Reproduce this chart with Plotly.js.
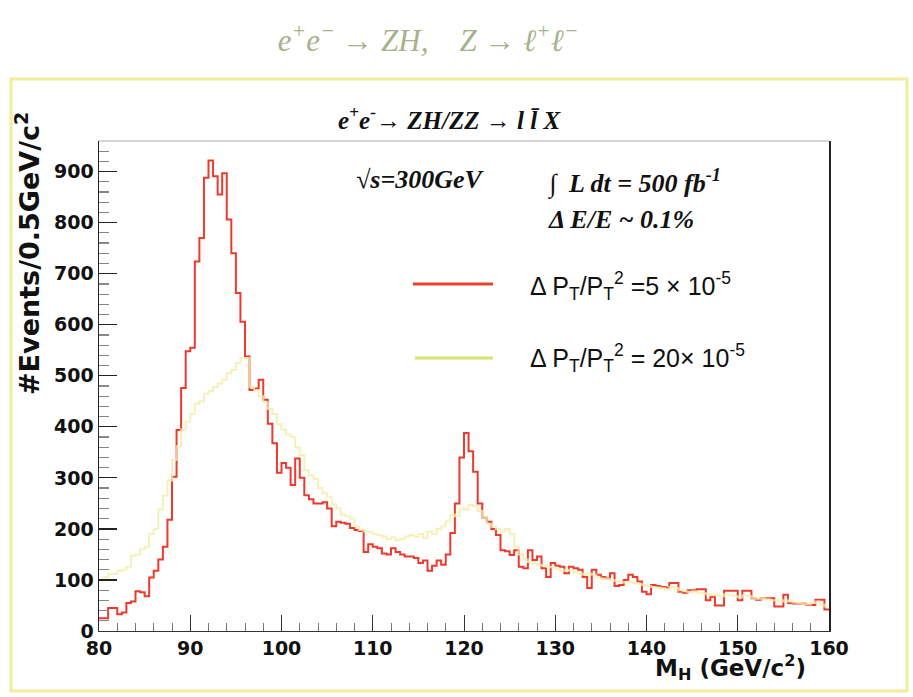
<!DOCTYPE html>
<html>
<head>
<meta charset="utf-8">
<script src="https://cdn.plot.ly/plotly-3.0.1.min.js"></script>
<style>html,body{margin:0;padding:0;background:#fff;}#chart{width:913px;height:697px;}</style>
</head>
<body>
<div id="chart"></div>
<script>
// Bin settings (0.5 GeV bins from 80 to 160)
const binLow = 80;
const binWidth = 0.5;

// Red histogram: Delta PT/PT^2 = 5e-5 (events per 0.5 GeV bin)
const redCounts = [
  25,25,45,45,33,36,55,58,78,76,
  68,105,118,140,165,218,302,394,476,548,
  555,724,770,888,922,891,855,897,806,740,
  662,606,538,472,475,492,453,406,368,310,
  329,320,286,338,300,266,258,250,250,252,
  240,205,214,212,210,202,198,196,155,170,
  165,162,152,150,162,155,150,146,146,143,
  133,138,118,128,138,130,150,192,250,340,
  388,352,312,250,222,214,200,188,158,156,
  149,158,126,123,158,139,146,123,106,133,
  128,126,113,126,123,120,106,84,120,110,
  106,103,113,88,90,100,110,106,97,77,
  72,90,88,86,85,94,94,77,75,80,
  80,82,82,60,67,50,50,79,79,79,
  60,79,79,64,61,64,64,64,48,48,
  71,55,54,54,54,51,51,61,61,42
];

// Yellow histogram: Delta PT/PT^2 = 20e-5
const yellowCounts = [
  100,105,112,112,118,120,125,148,150,160,
  165,190,200,238,265,295,335,362,395,410,
  425,445,450,465,470,478,485,492,505,512,
  525,535,535,478,472,460,448,435,425,405,
  395,385,380,360,345,315,305,298,280,270,
  262,248,240,228,225,220,205,198,195,194,
  190,188,185,180,183,178,180,185,188,185,
  190,182,195,190,200,205,215,228,225,240,
  238,247,245,235,222,210,204,200,195,200,
  190,165,150,140,135,132,130,128,126,125,
  122,118,120,118,115,113,110,112,110,105,
  103,102,100,98,96,95,97,94,92,90,
  88,86,85,84,82,86,84,80,78,76,
  78,75,74,72,70,71,68,72,70,68,
  66,70,68,65,63,64,62,60,60,58,
  60,58,56,55,54,52,55,58,52,48
];

const xTickVals = [80, 90, 100, 110, 120, 130, 140, 150, 160];
const yTickVals = [0, 100, 200, 300, 400, 500, 600, 700, 800, 900];

function stepXY(counts) {
  const xs = [], ys = [];
  for (let i = 0; i < counts.length; i++) {
    xs.push(binLow + i * binWidth);
    ys.push(counts[i]);
  }
  xs.push(binLow + counts.length * binWidth);
  ys.push(counts[counts.length - 1]);
  return {xs, ys};
}

const r = stepXY(redCounts);
const y = stepXY(yellowCounts);

const traces = [
  {x: r.xs, y: r.ys, type: 'scatter', mode: 'lines',
   line: {shape: 'hv', color: '#ec3a2e', width: 2}, name: 'red', hoverinfo: 'skip'},
  {x: y.xs, y: y.ys, type: 'scatter', mode: 'lines',
   line: {shape: 'hv', color: '#f2eda8', width: 2}, opacity: 0.8, name: 'yellow', hoverinfo: 'skip'}
];

const tickFont = {family: 'DejaVu Sans', size: 19, color: '#111', weight: 'bold'};

const layout = {
  width: 913, height: 697,
  margin: {l: 99, r: 84, t: 141, b: 66},
  paper_bgcolor: '#ffffff', plot_bgcolor: '#ffffff',
  showlegend: false,
  title: {
    text: '<i>e<sup>+</sup>e<sup>−</sup> → ZH,    Z → ℓ<sup>+</sup>ℓ<sup>−</sup></i>',
    font: {family: 'Liberation Serif', size: 31, color: '#a6b28c'},
    x: 428/913, xanchor: 'center', xref: 'container',
    y: 1 - 40/697, yanchor: 'middle', yref: 'container'
  },
  xaxis: {
    range: [80, 160], tickvals: xTickVals, ticktext: xTickVals.map(String),
    ticks: 'inside', ticklen: 16, tickwidth: 1, tickcolor: '#333',
    minor: {dtick: 2, tick0: 80, ticks: 'inside', ticklen: 8, tickcolor: '#777', showgrid: false},
    showgrid: false, zeroline: false, showline: true, linecolor: '#333', linewidth: 1,
    tickfont: tickFont, mirror: false
  },
  yaxis: {
    range: [0, 960], tickvals: yTickVals, ticktext: yTickVals.map(String),
    ticks: 'inside', ticklen: 18, tickwidth: 1.2, tickcolor: '#222',
    minor: {dtick: 20, tick0: 0, ticks: 'inside', ticklen: 10, tickcolor: '#888', showgrid: false},
    showgrid: false, zeroline: false, showline: true, linecolor: '#222', linewidth: 1.5,
    mirror: true, tickfont: tickFont
  },
  shapes: [
    // faint top frame line
    {type: 'line', xref: 'paper', yref: 'paper', x0: 0, x1: 1, y0: 1, y1: 1,
     line: {color: '#b5aca6', width: 1.2}},
    // outer pale-yellow frame
    {type: 'rect', xref: 'paper', yref: 'paper',
     x0: (11-99)/730, x1: (907-99)/730, y0: (631-691)/490, y1: (631-79)/490,
     line: {color: '#f3ec9c', width: 3}},
    // legend sample lines
    {type: 'line', xref: 'paper', yref: 'paper', x0: (413-99)/730, x1: (493-99)/730,
     y0: (631-284)/490, y1: (631-284)/490, line: {color: '#e8432f', width: 3}},
    {type: 'line', xref: 'paper', yref: 'paper', x0: (415-99)/730, x1: (493-99)/730,
     y0: (631-358)/490, y1: (631-358)/490, line: {color: '#d8e46c', width: 3}}
  ],
  annotations: [
    {text: '<i><b>e<sup>+</sup>e<sup>-</sup>→ ZH/ZZ → l l̄ X</b></i>', xref: 'paper', yref: 'paper',
     x: (449-99)/730, y: (631-118)/490, xanchor: 'center', yanchor: 'middle', showarrow: false,
     font: {family: 'Liberation Serif', size: 25, color: '#111'}},
    {text: '<i><b>√s=300GeV</b></i>', xref: 'paper', yref: 'paper',
     x: (354-99)/730, y: (631-180)/490, xanchor: 'left', yanchor: 'middle', showarrow: false,
     font: {family: 'Liberation Serif', size: 26, color: '#111'}},
    {text: '<i><b>∫  L dt = 500 fb<sup>-1</sup></b></i>', xref: 'paper', yref: 'paper',
     x: (546-99)/730, y: (631-182)/490, xanchor: 'left', yanchor: 'middle', showarrow: false,
     font: {family: 'Liberation Serif', size: 26, color: '#111'}},
    {text: '<i><b>Δ E/E ~ 0.1%</b></i>', xref: 'paper', yref: 'paper',
     x: (546-99)/730, y: (631-219)/490, xanchor: 'left', yanchor: 'middle', showarrow: false,
     font: {family: 'Liberation Serif', size: 26, color: '#111'}},
    {text: 'Δ P<sub>T</sub>/P<sub>T</sub><sup>2</sup> =5 × 10<sup>-5</sup>', xref: 'paper', yref: 'paper',
     x: (528-99)/730, y: (631-286)/490, xanchor: 'left', yanchor: 'middle', showarrow: false,
     font: {family: 'Liberation Sans', size: 25, color: '#111'}},
    {text: 'Δ P<sub>T</sub>/P<sub>T</sub><sup>2</sup> = 20× 10<sup>-5</sup>', xref: 'paper', yref: 'paper',
     x: (528-99)/730, y: (631-358)/490, xanchor: 'left', yanchor: 'middle', showarrow: false,
     font: {family: 'Liberation Sans', size: 25, color: '#111'}},
    {text: '<b>#Events/0.5GeV/c<sup>2</sup></b>', xref: 'paper', yref: 'paper',
     x: (27-99)/730, y: (631-254)/490, xanchor: 'center', yanchor: 'middle', showarrow: false,
     textangle: -90, font: {family: 'DejaVu Sans', size: 27, color: '#111'}},
    {text: '<b>M<sub>H</sub> (GeV/c<sup>2</sup>)</b>', xref: 'paper', yref: 'paper',
     x: (808-99)/730, y: (631-667)/490, xanchor: 'right', yanchor: 'middle', showarrow: false,
     font: {family: 'DejaVu Sans', size: 23, color: '#111'}}
  ]
};

Plotly.newPlot('chart', traces, layout, {staticPlot: true, displayModeBar: false});
</script>
</body>
</html>
